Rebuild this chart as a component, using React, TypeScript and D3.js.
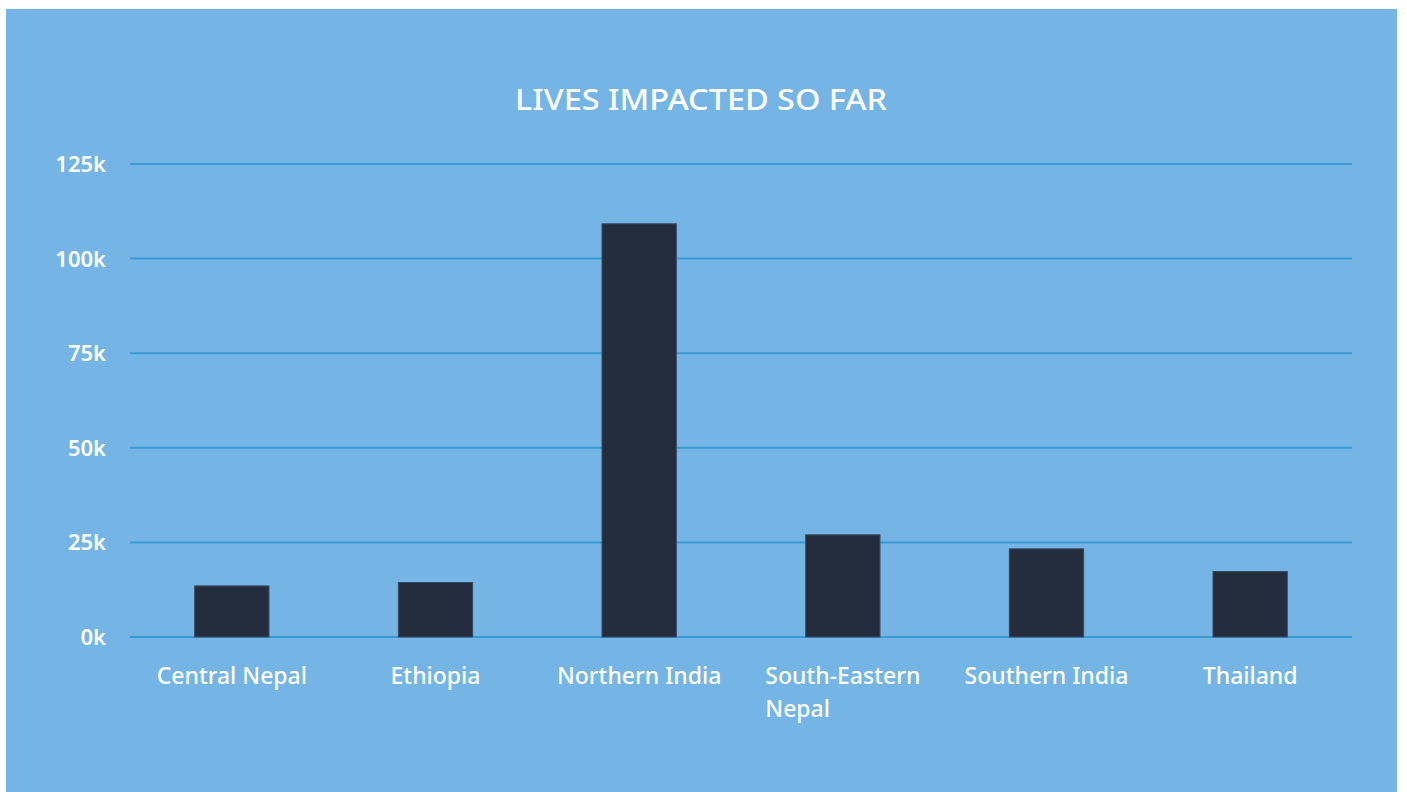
import React, { useEffect, useRef } from "react";
import * as d3 from "d3";

const categories = ["Central Nepal", "Ethiopia", "Northern India", "South-Eastern Nepal", "Southern India", "Thailand"];
const categoryLines = [["Central Nepal"], ["Ethiopia"], ["Northern India"], ["South-Eastern", "Nepal"], ["Southern India"], ["Thailand"]];
const values = [13500, 14400, 109200, 27000, 23300, 17300];
const yTicks = [0, 25000, 50000, 75000, 100000, 125000];
const yTickLabels = ["0k", "25k", "50k", "75k", "100k", "125k"];
const title = "LIVES IMPACTED SO FAR";

const W = 1407;
const H = 792;
const FONT = "'Noto Sans', 'Open Sans', sans-serif";

export default function App() {
  const ref = useRef<SVGSVGElement>(null);

  useEffect(() => {
    const svg = d3.select(ref.current);
    svg.selectAll("*").remove();

    svg.append("rect").attr("x", 6).attr("y", 9).attr("width", 1391).attr("height", 783).attr("fill", "#74b5e5");

    const x = d3.scaleBand<string>().domain(categories).range([130, 1352]).paddingInner(0.635).paddingOuter(0.3175);
    const y = d3.scaleLinear().domain([0, 125000]).range([637, 164]);

    svg.append("text")
      .attr("x", 701).attr("y", 110)
      .attr("text-anchor", "middle")
      .attr("fill", "#ffffff")
      .attr("font-family", FONT)
      .attr("font-size", 29)
      .attr("font-weight", 500)
      .attr("textLength", 372)
      .attr("lengthAdjust", "spacingAndGlyphs")
      .text(title);

    const grid = svg.append("g");
    yTicks.forEach((t, i) => {
      grid.append("line")
        .attr("x1", 130).attr("x2", 1352)
        .attr("y1", y(t)).attr("y2", y(t))
        .attr("stroke", "#3a9ad3").attr("stroke-width", 2);
      grid.append("text")
        .attr("x", 106).attr("y", y(t) + 8)
        .attr("text-anchor", "end")
        .attr("fill", "#ffffff")
        .attr("font-family", FONT)
        .attr("font-size", 22)
        .attr("font-weight", 600)
        .text(yTickLabels[i]);
    });

    svg.append("g").selectAll("rect")
      .data(values)
      .join("rect")
      .attr("x", (_, i) => x(categories[i])!)
      .attr("width", x.bandwidth())
      .attr("y", (d) => y(d))
      .attr("height", (d) => y(0) - y(d))
      .attr("fill", "#242d3d")
      .attr("stroke", "#3b4a60")
      .attr("stroke-width", 1);

    const labels = svg.append("g");
    categoryLines.forEach((lines, i) => {
      const cx = x(categories[i])! + x.bandwidth() / 2;
      const t = labels.append("text")
        .attr("fill", "#ffffff")
        .attr("font-family", FONT)
        .attr("font-size", 23)
        .attr("font-weight", 500);
      lines.forEach((ln, j) => {
        t.append("tspan").attr("y", 684 + j * 33).text(ln);
      });
      const spans = t.selectAll<SVGTSpanElement, unknown>("tspan").nodes();
      const widest = d3.max(spans, (n) => n.getComputedTextLength()) || 0;
      spans.forEach((n) => d3.select(n).attr("x", cx - widest / 2));
    });
  }, []);

  return (
    <svg ref={ref} width={W} height={H} style={{ position: "absolute", left: 0, top: 0 }} />
  );
}
